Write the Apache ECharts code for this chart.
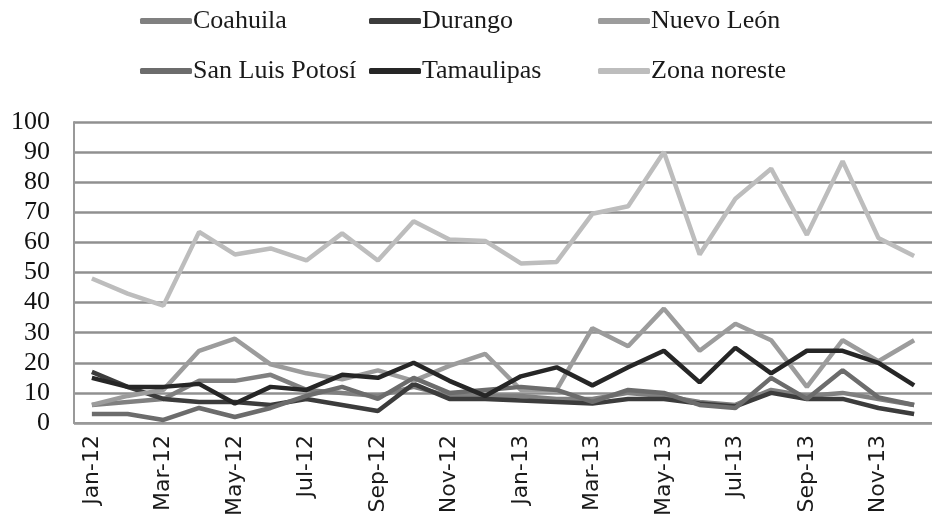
<!DOCTYPE html>
<html>
<head>
<meta charset="utf-8">
<script src="https://cdn.jsdelivr.net/npm/echarts@6/dist/echarts.min.js"></script>
<style>
html,body{margin:0;padding:0;background:#fff;}
#chart{width:932px;height:524px;}
</style>
</head>
<body>
<div id="chart"></div>
<script>
const months = ['Jan-12','Feb-12','Mar-12','Apr-12','May-12','Jun-12','Jul-12','Aug-12','Sep-12','Oct-12','Nov-12','Dec-12',
                'Jan-13','Feb-13','Mar-13','Apr-13','May-13','Jun-13','Jul-13','Aug-13','Sep-13','Oct-13','Nov-13','Dec-13'];
const yTicks = [0,10,20,30,40,50,60,70,80,90,100];

const coahuila      = [6, 7, 8, 14, 14, 16, 11, 10, 9, 12, 9, 9, 9, 8, 8, 10, 9, 7, 6, 11, 9, 10, 8, 6];
const durango       = [17, 12, 8, 7, 7, 6, 8, 6, 4, 13, 8, 8, 7.5, 7, 6.5, 8, 8, 6.5, 5.5, 10, 8, 8, 5, 3];
const nuevoLeon     = [6, 9, 11, 24, 28, 19.5, 16.5, 14.5, 17.5, 14, 19, 23, 11, 11, 31.5, 25.5, 38, 24, 33, 27.5, 12, 27.5, 20.5, 27.5];
const sanLuisPotosi = [3, 3, 1, 5, 2, 5, 9, 12, 8, 15, 10, 11, 12, 11, 7, 11, 10, 6, 5, 15, 8, 17.5, 8.5, 6];
const tamaulipas    = [15, 12, 12, 13, 6.5, 12, 11, 16, 15, 20, 14, 9, 15.5, 18.5, 12.5, 18.5, 24, 13.5, 25, 16.5, 24, 24, 20, 12.5];
const zonaNoreste   = [48, 43, 39, 63.5, 56, 58, 54, 63, 54, 67, 61, 60.5, 53, 53.5, 69.5, 72, 90, 56, 74.5, 84.5, 62.5, 87, 61.5, 55.5];

const seriesDefs = [
  {name:'Coahuila', data:coahuila, color:'#808080'},
  {name:'Durango', data:durango, color:'#3c3c3c'},
  {name:'Nuevo León', data:nuevoLeon, color:'#9c9c9c'},
  {name:'San Luis Potosí', data:sanLuisPotosi, color:'#6c6c6c'},
  {name:'Tamaulipas', data:tamaulipas, color:'#262626'},
  {name:'Zona noreste', data:zonaNoreste, color:'#bdbdbd'}
];

const legendPos = [[140,8],[369,8],[598,8],[140,58],[369,58],[598,58]];

const chart = echarts.init(document.getElementById('chart'), null, {renderer:'canvas'});
chart.setOption({
  animation:false,
  backgroundColor:'#fff',
  legend: seriesDefs.map((s,i)=>({
    data:[s.name], left:legendPos[i][0], top:legendPos[i][1],
    icon:'roundRect', itemWidth:52, itemHeight:6, itemGap:2, padding:0,
    textStyle:{fontFamily:'Liberation Serif', fontSize:26, color:'#1a1a1a', padding:[0,0,0,-4]}
  })),
  grid:{left:74, right:0, top:122, bottom:101, containLabel:false},
  xAxis:{
    type:'category', data:months, boundaryGap:true,
    axisLine:{lineStyle:{color:'#999', width:2}},
    axisTick:{interval:1, length:8, lineStyle:{color:'#999', width:2}},
    axisLabel:{interval:1, rotate:90, margin:12, fontFamily:'DejaVu Sans', fontSize:22, color:'#1a1a1a'}
  },
  yAxis:{
    type:'value', min:0, max:100, interval:10,
    axisLine:{show:true, lineStyle:{color:'#999', width:2}},
    axisTick:{show:false},
    axisLabel:{margin:24, fontFamily:'Liberation Serif', fontSize:26, color:'#111',
      formatter:v=> yTicks.includes(v) ? String(v) : ''},
    splitLine:{lineStyle:{color:'#909090', width:2.5}}
  },
  series: seriesDefs.map(s=>({
    name:s.name, type:'line', data:s.data, symbol:'none', smooth:false,
    lineStyle:{color:s.color, width:4.5}, itemStyle:{color:s.color}
  }))
});
</script>
</body>
</html>
